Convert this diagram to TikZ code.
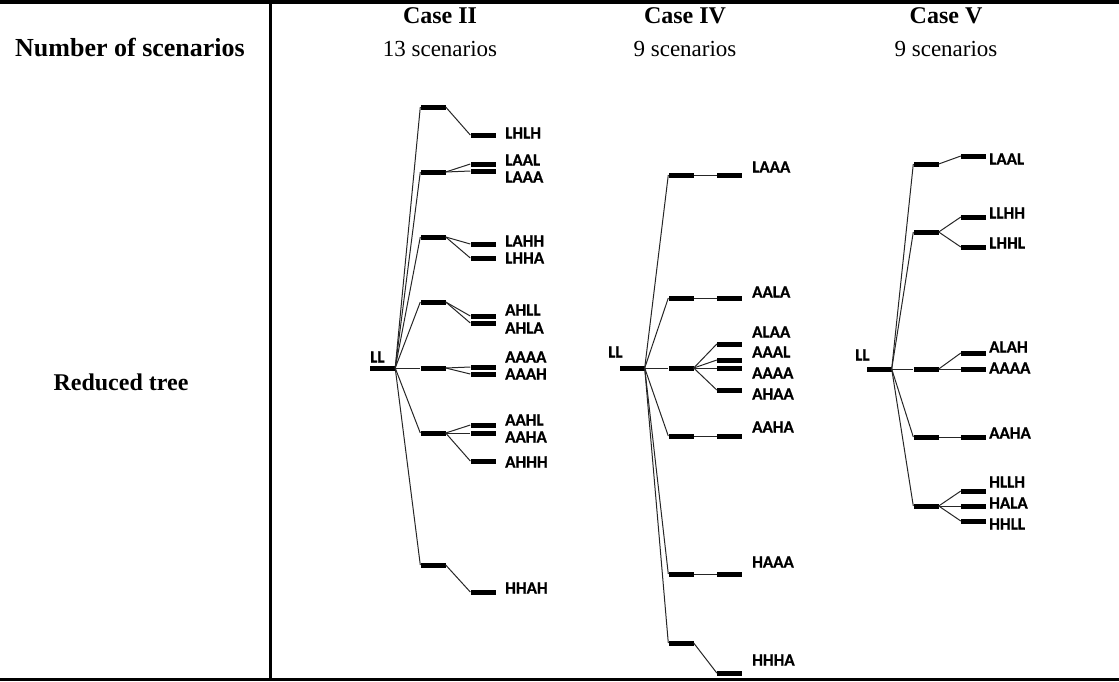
\documentclass[tikz,border=0pt]{standalone}
\usepackage{fontspec}
\setmainfont{Liberation Serif}
\newfontfamily\lblfont[BoldFont={Carlito Bold}, BoldFeatures={FakeBold=0.6}]{Carlito}
% one branch: bar node #1 hanging from #2, bar centre (#3,#4), label #5 at (#6,#7)
\newcommand\twig[7]{%
  \node[bar] (#1) at (#3,#4) {};
  \draw[link] (#2.east) -- (#1.west);
  \node[leaf] (#1-t) at (#6,#7) {#5};
}
\begin{document}
\begin{tikzpicture}[x=1pt,y=-1pt,
  bar/.style={fill=black, draw=none, inner sep=0pt, minimum width=25pt, minimum height=5pt},
  link/.style={draw=black!85, line width=1pt},
  leaf/.style={font=\lblfont\bfseries\fontsize{17}{17}\selectfont, anchor=west, inner sep=0pt},
  head/.style={font=\bfseries\fontsize{24}{24}\selectfont, anchor=base, inner sep=0pt},
  body/.style={font=\fontsize{23}{23}\selectfont, anchor=base, inner sep=0pt},
  rulebar/.style={line width=#1}]
\useasboundingbox (0,0) rectangle (1119,681);

% table rules
\coordinate (tl) at (0,2);
\coordinate (tr) at (1119,2);
\coordinate (bl) at (0,679);
\coordinate (br) at (1119,679);
\coordinate (vt) at (270,0);
\coordinate (vb) at (270,681);
\draw[rulebar=4pt] (tl) -- (tr);
\draw[rulebar=3pt] (bl) -- (br);
\draw[rulebar=3pt] (vt) -- (vb);

% headings
\node[head] (h2) at (440,23) {Case II};
\node[head] (h4) at (685,23) {Case IV};
\node[head] (h5) at (946,23) {Case V};
\node[head, font=\bfseries\fontsize{26}{26}\selectfont] (rowa) at (130,56) {Number of scenarios};
\node[body] (n2) at (440,56) {13 scenarios};
\node[body] (n4) at (685,56) {9 scenarios};
\node[body] (n5) at (946,56) {9 scenarios};
\node[head] (rowb) at (121,390) {Reduced tree};

% ---------- Case II ----------
\node[bar] (A) at (382.5,368) {};
\node[leaf] (A-t) at (370,357) {LL};
\foreach \n/\y in {a1/107,a2/172,a3/237,a4/302,a5/368,a6/433,a7/565}{
  \node[bar] (\n) at (433,\y) {};
  \draw[link] (A.east) -- (\n.west);
}
\twig{a11}{a1}{483}{135}{LHLH}{505}{133}
\twig{a21}{a2}{483}{164}{LAAL}{505}{160}
\twig{a22}{a2}{483}{171}{LAAA}{505}{177}
\twig{a31}{a3}{483}{244}{LAHH}{505}{241}
\twig{a32}{a3}{483}{258}{LHHA}{505}{258}
\twig{a41}{a4}{483}{316}{AHLL}{505}{310}
\twig{a42}{a4}{483}{323}{AHLA}{505}{328}
\twig{a51}{a5}{483}{367}{AAAA}{505}{357}
\twig{a52}{a5}{483}{374}{AAAH}{505}{374}
\twig{a61}{a6}{483}{425}{AAHL}{505}{420}
\twig{a62}{a6}{483}{433}{AAHA}{505}{437}
\twig{a63}{a6}{483}{461}{AHHH}{505}{462}
\twig{a71}{a7}{483}{592}{HHAH}{505}{588}

% ---------- Case IV ----------
\node[bar] (B) at (632,368) {};
\node[leaf] (B-t) at (608,352) {LL};
\foreach \n/\y in {b1/175,b2/298,b3/368,b4/436,b5/574,b6/643}{
  \node[bar] (\n) at (681,\y) {};
  \draw[link] (B.east) -- (\n.west);
}
\twig{b11}{b1}{729.5}{175}{LAAA}{752}{167}
\twig{b21}{b2}{729.5}{298}{AALA}{752}{292}
\twig{b31}{b3}{729.5}{344}{ALAA}{752}{332}
\twig{b32}{b3}{729.5}{360}{AAAL}{752}{352}
\twig{b33}{b3}{729.5}{368}{AAAA}{752}{373}
\twig{b34}{b3}{729.5}{390}{AHAA}{752}{394}
\twig{b41}{b4}{729.5}{436}{AAHA}{752}{427}
\twig{b51}{b5}{729.5}{574}{HAAA}{752}{562}
\twig{b61}{b6}{729.5}{673}{HHHA}{752}{660}

% ---------- Case V ----------
\node[bar] (C) at (879,369) {};
\node[leaf] (C-t) at (855,355) {LL};
\foreach \n/\y in {c1/164,c2/232,c3/369,c4/437,c5/506}{
  \node[bar] (\n) at (926,\y) {};
  \draw[link] (C.east) -- (\n.west);
}
\twig{c11}{c1}{973.5}{156}{LAAL}{989}{159}
\twig{c21}{c2}{973.5}{217}{LLHH}{989}{213}
\twig{c22}{c2}{973.5}{247}{LHHL}{989}{243}
\twig{c31}{c3}{973.5}{353}{ALAH}{989}{347}
\twig{c32}{c3}{973.5}{369}{AAAA}{989}{368}
\twig{c41}{c4}{973.5}{437}{AAHA}{989}{433}
\twig{c51}{c5}{973.5}{491}{HLLH}{989}{482}
\twig{c52}{c5}{973.5}{506}{HALA}{989}{503}
\twig{c53}{c5}{973.5}{521}{HHLL}{989}{524}
\end{tikzpicture}
\end{document}
